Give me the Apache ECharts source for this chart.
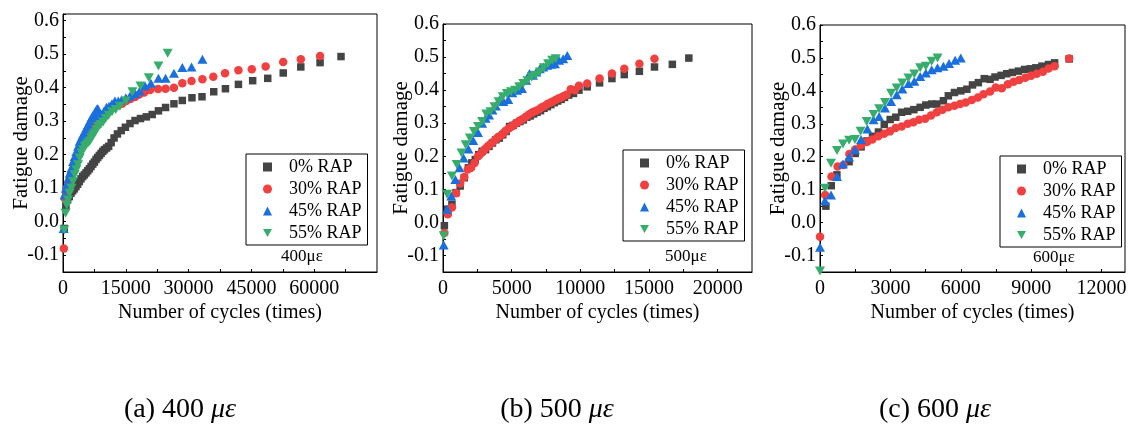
<!DOCTYPE html>
<html>
<head>
<meta charset="utf-8">
<script src="https://cdn.jsdelivr.net/npm/echarts@6.0.0/dist/echarts.min.js"></script>
<style>
  html, body { margin: 0; padding: 0; background: #fff; }
  #chart { width: 1130px; height: 428px; }
</style>
</head>
<body>
<div id="chart"></div>
<script>
const FONT = 'Liberation Serif';
const names = ['0% RAP', '30% RAP', '45% RAP', '55% RAP'];

// (a) 400 µε
const cyclesA0 = [300, 700, 1100, 1500, 1900, 2300, 2700, 3100, 3500, 3900, 4300, 4700, 5100, 5500, 5900, 6300, 6700, 7100, 7500, 7900, 8300, 8700, 9100, 9500, 9900, 10400, 10900, 11500, 12200, 13000, 13900, 14900, 16000, 17200, 18500, 19900, 21300, 22800, 24500, 26500, 28500, 30800, 33200, 36000, 38800, 41900, 45300, 48900, 52600, 56800, 61400, 66400];
const damageA0 = [-0.02, 0.045, 0.065, 0.075, 0.085, 0.092, 0.098, 0.105, 0.112, 0.12, 0.128, 0.135, 0.14, 0.146, 0.152, 0.158, 0.165, 0.172, 0.178, 0.186, 0.192, 0.198, 0.204, 0.21, 0.215, 0.22, 0.225, 0.236, 0.25, 0.262, 0.272, 0.282, 0.293, 0.302, 0.308, 0.313, 0.32, 0.331, 0.341, 0.352, 0.362, 0.37, 0.373, 0.388, 0.397, 0.41, 0.421, 0.428, 0.444, 0.462, 0.475, 0.493];
const cyclesA30 = [200, 400, 700, 1000, 1300, 1600, 1900, 2200, 2500, 2900, 3300, 3700, 4100, 4500, 4900, 5300, 5700, 6100, 6500, 6900, 7300, 7700, 8100, 8600, 9100, 9600, 10200, 10900, 11600, 12400, 13200, 14100, 15100, 16100, 17200, 18200, 19400, 20800, 22700, 24500, 26500, 28500, 30700, 33300, 35900, 38700, 41900, 45100, 48400, 52600, 56800, 61400];
const damageA30 = [-0.08, 0.07, 0.09, 0.1, 0.115, 0.125, 0.14, 0.15, 0.16, 0.175, 0.19, 0.2, 0.215, 0.225, 0.235, 0.245, 0.25, 0.26, 0.265, 0.272, 0.28, 0.288, 0.295, 0.302, 0.31, 0.315, 0.322, 0.33, 0.338, 0.344, 0.348, 0.352, 0.36, 0.366, 0.372, 0.38, 0.386, 0.393, 0.396, 0.397, 0.4, 0.413, 0.42, 0.425, 0.433, 0.443, 0.452, 0.455, 0.463, 0.477, 0.485, 0.495];
const cyclesA45 = [150, 400, 700, 1000, 1300, 1600, 2000, 2400, 2800, 3200, 3600, 4000, 4400, 4800, 5200, 5600, 6000, 6400, 6800, 7200, 7600, 8000, 8300, 8800, 9300, 9800, 10400, 11000, 11700, 12400, 13200, 14000, 15000, 16000, 17200, 18300, 19600, 21000, 22800, 24500, 26500, 28500, 30700, 33300];
const damageA45 = [-0.02, 0.08, 0.1, 0.115, 0.13, 0.145, 0.16, 0.18, 0.195, 0.21, 0.225, 0.24, 0.25, 0.26, 0.27, 0.28, 0.29, 0.3, 0.31, 0.318, 0.325, 0.335, 0.338, 0.315, 0.32, 0.33, 0.342, 0.345, 0.352, 0.36, 0.36, 0.364, 0.37, 0.375, 0.382, 0.39, 0.405, 0.413, 0.428, 0.428, 0.443, 0.46, 0.462, 0.485];
const cyclesA55 = [300, 600, 900, 1200, 1600, 2000, 2400, 2800, 3200, 3600, 4000, 4400, 4800, 5200, 5600, 6000, 6400, 6800, 7200, 7600, 8000, 8500, 9000, 9600, 10200, 10900, 11700, 12600, 13600, 15000, 16600, 18500, 20500, 22800, 25000];
const damageA55 = [-0.025, 0.025, 0.05, 0.065, 0.085, 0.1, 0.12, 0.14, 0.155, 0.17, 0.19, 0.205, 0.215, 0.225, 0.23, 0.235, 0.24, 0.25, 0.258, 0.265, 0.275, 0.285, 0.29, 0.298, 0.308, 0.318, 0.328, 0.335, 0.345, 0.36, 0.388, 0.405, 0.43, 0.465, 0.503];

// (b) 500 µε
const cyclesB0 = [100, 350, 650, 950, 1250, 1550, 1850, 2100, 2350, 2600, 2850, 3100, 3350, 3600, 3850, 4100, 4350, 4600, 4850, 5100, 5350, 5600, 5850, 6100, 6350, 6600, 6850, 7100, 7350, 7600, 7850, 8100, 8350, 8600, 8850, 9150, 9500, 9900, 10500, 11400, 12300, 13200, 14300, 15400, 16700, 17900];
const damageB0 = [-0.01, 0.04, 0.055, 0.09, 0.11, 0.135, 0.165, 0.18, 0.19, 0.205, 0.215, 0.22, 0.23, 0.24, 0.25, 0.255, 0.265, 0.275, 0.29, 0.293, 0.3, 0.305, 0.31, 0.318, 0.322, 0.328, 0.333, 0.338, 0.345, 0.35, 0.356, 0.362, 0.367, 0.372, 0.378, 0.385, 0.39, 0.4, 0.41, 0.422, 0.435, 0.447, 0.457, 0.47, 0.478, 0.497];
const cyclesB30 = [100, 350, 650, 950, 1250, 1550, 1800, 2050, 2300, 2550, 2800, 3000, 3200, 3400, 3600, 3800, 4000, 4200, 4400, 4600, 4800, 5000, 5200, 5400, 5600, 5800, 6000, 6200, 6400, 6600, 6800, 7000, 7200, 7400, 7600, 7800, 8000, 8200, 8400, 8600, 8800, 9000, 9300, 9600, 9900, 10500, 11400, 12300, 13200, 14300, 15400];
const damageB30 = [-0.032, 0.025, 0.045, 0.088, 0.118, 0.137, 0.16, 0.165, 0.18, 0.2, 0.21, 0.22, 0.228, 0.235, 0.242, 0.25, 0.258, 0.262, 0.27, 0.278, 0.285, 0.29, 0.296, 0.302, 0.308, 0.313, 0.318, 0.325, 0.33, 0.335, 0.338, 0.342, 0.348, 0.352, 0.358, 0.362, 0.366, 0.37, 0.375, 0.378, 0.382, 0.386, 0.403, 0.4, 0.413, 0.42, 0.435, 0.45, 0.465, 0.48, 0.495];
const cyclesB45 = [50, 300, 600, 900, 1200, 1500, 1850, 2200, 2550, 2850, 3100, 3350, 3600, 3850, 4100, 4400, 4750, 5050, 5400, 5750, 6050, 6300, 6550, 6800, 7050, 7300, 7600, 7900, 8150, 8450, 8750, 9050];
const damageB45 = [-0.068, 0.04, 0.08, 0.13, 0.165, 0.195, 0.222, 0.248, 0.272, 0.3, 0.315, 0.325, 0.34, 0.352, 0.37, 0.366, 0.372, 0.392, 0.4, 0.405, 0.43, 0.45, 0.445, 0.455, 0.465, 0.47, 0.475, 0.478, 0.48, 0.49, 0.495, 0.505];
const cyclesB55 = [50, 300, 650, 1000, 1350, 1650, 1950, 2250, 2550, 2850, 3150, 3450, 3750, 4050, 4350, 4650, 4950, 5250, 5550, 5850, 6150, 6450, 6750, 7050, 7350, 7650, 7950, 8200];
const damageB55 = [-0.04, 0.085, 0.14, 0.175, 0.21, 0.235, 0.255, 0.275, 0.29, 0.305, 0.328, 0.335, 0.35, 0.365, 0.38, 0.39, 0.395, 0.4, 0.41, 0.42, 0.428, 0.44, 0.445, 0.455, 0.468, 0.48, 0.49, 0.495];

// (c) 600 µε
const cyclesC0 = [250, 480, 720, 1240, 1500, 1750, 2000, 2240, 2490, 2740, 2990, 3230, 3480, 3740, 4000, 4270, 4510, 4760, 4980, 5260, 5470, 5730, 6000, 6260, 6500, 6750, 7000, 7250, 7460, 7720, 7960, 8200, 8460, 8720, 8960, 9200, 9460, 9740, 10000, 10620];
const damageC0 = [0.05, 0.112, 0.145, 0.185, 0.21, 0.23, 0.248, 0.262, 0.275, 0.298, 0.313, 0.32, 0.335, 0.338, 0.343, 0.35, 0.357, 0.36, 0.36, 0.37, 0.385, 0.395, 0.4, 0.405, 0.418, 0.425, 0.437, 0.435, 0.442, 0.447, 0.452, 0.456, 0.46, 0.465, 0.467, 0.47, 0.475, 0.48, 0.485, 0.497];
const cyclesC30 = [0, 220, 490, 750, 1000, 1250, 1500, 1740, 1990, 2230, 2480, 2730, 2980, 3220, 3480, 3740, 3980, 4220, 4480, 4730, 4980, 5220, 5470, 5730, 5970, 6210, 6470, 6730, 6970, 7250, 7490, 7750, 8010, 8250, 8490, 8750, 9000, 9240, 9500, 9740, 10000, 10620];
const damageC30 = [-0.043, 0.084, 0.14, 0.17, 0.175, 0.208, 0.222, 0.235, 0.245, 0.252, 0.262, 0.27, 0.277, 0.287, 0.292, 0.3, 0.305, 0.312, 0.315, 0.325, 0.335, 0.343, 0.35, 0.355, 0.36, 0.365, 0.372, 0.38, 0.39, 0.398, 0.41, 0.408, 0.42, 0.428, 0.433, 0.44, 0.446, 0.452, 0.458, 0.468, 0.475, 0.498];
const cyclesC45 = [0, 210, 470, 725, 980, 1240, 1490, 1750, 2020, 2280, 2520, 2770, 3030, 3270, 3510, 3770, 4020, 4270, 4510, 4760, 5010, 5260, 5500, 5760, 6000];
const damageC45 = [-0.075, 0.066, 0.084, 0.14, 0.178, 0.199, 0.221, 0.252, 0.284, 0.312, 0.322, 0.348, 0.368, 0.388, 0.406, 0.422, 0.429, 0.444, 0.454, 0.464, 0.47, 0.475, 0.483, 0.493, 0.5];
const cyclesC55 = [0, 210, 470, 725, 980, 1240, 1490, 1730, 1990, 2280, 2520, 2770, 3030, 3270, 3510, 3770, 4020, 4270, 4510, 4760, 5010];
const damageC55 = [-0.147, 0.104, 0.18, 0.219, 0.239, 0.25, 0.252, 0.277, 0.307, 0.328, 0.346, 0.365, 0.393, 0.409, 0.424, 0.439, 0.451, 0.47, 0.475, 0.49, 0.5];

const panels = [
  { grid: { left: 63, top: 14, width: 314, height: 258 }, xMax: 75000, xStep: 15000, yMax: 0.62,
    series: [[cyclesA0, damageA0], [cyclesA30, damageA30], [cyclesA45, damageA45], [cyclesA55, damageA55]],
    legend: { left: 246, top: 154 }, tag: '400με', tagPos: [302, 257], caption: '(a) 400 ', capX: 180 },
  { grid: { left: 443, top: 24, width: 309, height: 248 }, xMax: 22500, xStep: 5000, yMax: 0.6,
    series: [[cyclesB0, damageB0], [cyclesB30, damageB30], [cyclesB45, damageB45], [cyclesB55, damageB55]],
    legend: { left: 623, top: 150 }, tag: '500με', tagPos: [686, 257], caption: '(b) 500 ', capX: 557 },
  { grid: { left: 820, top: 25, width: 305, height: 247 }, xMax: 13000, xStep: 3000, yMax: 0.6,
    series: [[cyclesC0, damageC0], [cyclesC30, damageC30], [cyclesC45, damageC45], [cyclesC55, damageC55]],
    legend: { left: 1000, top: 156 }, tag: '600με', tagPos: [1054, 258], caption: '(c) 600 ', capX: 935 }
];

const styles = [
  { symbol: 'rect', symbolSize: 7.5, color: '#444444' },
  { symbol: 'circle', symbolSize: 8.5, color: '#F14040' },
  { symbol: 'triangle', symbolSize: [10, 9], color: '#1A6FDF' },
  { symbol: 'path://M0,0L10,0L5,9Z', symbolSize: [10, 9], color: '#37AD6B' }
];

const grids = [], xAxes = [], yAxes = [], series = [], legends = [], graphics = [];

panels.forEach((p, i) => {
  grids.push(Object.assign({ show: true, borderColor: '#000', borderWidth: 1, containLabel: false }, p.grid));

  xAxes.push({
    gridIndex: i, type: 'value', min: 0, max: p.xMax, interval: p.xStep / 2,
    axisLine: { show: true, onZero: false, lineStyle: { color: '#000', width: 1 } },
    axisTick: { show: true, inside: true, length: 3, lineStyle: { color: '#000' } },
    axisLabel: {
      color: '#000', fontFamily: FONT, fontSize: 20, margin: 7, showMaxLabel: false,
      formatter: v => (v % p.xStep === 0 ? String(v) : '')
    },
    splitLine: { show: false },
    name: 'Number of cycles (times)', nameLocation: 'middle', nameGap: 31, nameMoveOverlap: false,
    nameTextStyle: { color: '#000', fontFamily: FONT, fontSize: 20 }
  });

  yAxes.push({
    gridIndex: i, type: 'value', min: -0.15, max: p.yMax, interval: 0.05,
    axisLine: { show: true, onZero: false, lineStyle: { color: '#000', width: 1 } },
    axisTick: { show: true, inside: true, length: 3, lineStyle: { color: '#000' } },
    axisLabel: {
      color: '#000', fontFamily: FONT, fontSize: 20, margin: 4,
      formatter: v => {
        const t = Math.round(v * 100);
        return t % 10 === 0 ? (t / 100).toFixed(1) : '';
      }
    },
    splitLine: { show: false },
    name: 'Fatigue damage', nameLocation: 'middle', nameGap: 31, nameRotate: 90, nameMoveOverlap: false,
    nameTextStyle: { color: '#000', fontFamily: FONT, fontSize: 21 }
  });

  p.series.forEach((s, k) => {
    series.push({
      name: names[k], type: 'scatter', xAxisIndex: i, yAxisIndex: i,
      symbol: styles[k].symbol, symbolSize: styles[k].symbolSize,
      itemStyle: { color: styles[k].color, opacity: 1 },
      data: s[0].map((x, j) => [x, s[1][j]]),
      silent: true
    });
  });

  // icon is kept square; the text padding pushes the labels right as in the original box
  legends.push({
    left: p.legend.left, top: p.legend.top, orient: 'vertical',
    itemWidth: 9, itemHeight: 9, itemGap: 4, padding: [4, 6, 3, 17],
    borderColor: '#000', borderWidth: 1, backgroundColor: '#fff',
    selectedMode: false,
    textStyle: { color: '#000', fontFamily: FONT, fontSize: 18, padding: [0, 0, 0, 12] },
    data: names
  });

  graphics.push({
    type: 'text', x: p.tagPos[0], y: p.tagPos[1],
    style: { text: p.tag, fill: '#000', fontFamily: FONT, fontSize: 17, align: 'center', verticalAlign: 'middle' }
  });
  graphics.push({
    type: 'text', x: p.capX, y: 410,
    style: {
      text: '{n|' + p.caption + '}{i|με}', fill: '#000', align: 'center', verticalAlign: 'middle',
      rich: {
        n: { fontFamily: FONT, fontSize: 28, fill: '#000' },
        i: { fontFamily: FONT, fontSize: 28, fontStyle: 'italic', fill: '#000' }
      }
    }
  });
});

const chart = echarts.init(document.getElementById('chart'));
chart.setOption({
  backgroundColor: '#fff',
  animation: false,
  grid: grids,
  xAxis: xAxes,
  yAxis: yAxes,
  legend: legends,
  series: series,
  graphic: graphics
});
</script>
</body>
</html>
